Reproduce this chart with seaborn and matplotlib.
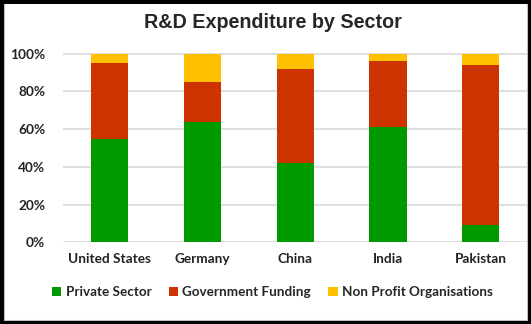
import matplotlib
matplotlib.use("Agg")
import matplotlib.pyplot as plt
import seaborn as sns
import pandas as pd
from matplotlib.patches import Rectangle, Patch

countries = ["United States", "Germany", "China", "India", "Pakistan"]
private_sector = [55, 64, 42, 61, 9]
government_funding = [40, 21, 50, 35, 85]
non_profit = [5, 15, 8, 4, 6]
yticks = [0, 20, 40, 60, 80, 100]
ytick_labels = ["0%", "20%", "40%", "60%", "80%", "100%"]
series_names = ["Private Sector", "Government Funding", "Non Profit Organisations"]
colors = ["#009900", "#CC3300", "#FFC000"]

df = pd.DataFrame({
    "country": countries,
    "private": private_sector,
    "gov": government_funding,
    "nonprofit": non_profit,
})
df["lvl_gov"] = df["private"] + df["gov"]
df["lvl_top"] = df["lvl_gov"] + df["nonprofit"]

sns.set_theme(style="white")
plt.rcParams["font.family"] = ["Lato", "DejaVu Sans"]

fig = plt.figure(figsize=(5.31, 3.24), dpi=100)
ax = fig.add_axes([0.119, 0.252, 0.874, 0.585])

# stacked bars: draw cumulative heights back to front
for col, c in [("lvl_top", colors[2]), ("lvl_gov", colors[1]), ("private", colors[0])]:
    sns.barplot(data=df, x="country", y=col, color=c, width=0.4, ax=ax,
                saturation=1, linewidth=0, zorder=3)

ax.set_ylim(0, 100.4)
ax.set_yticks(yticks)
ax.set_yticklabels(ytick_labels)
ax.set_xlim(-0.5, len(countries) - 0.5)
ax.yaxis.grid(True, color="#D9D9D9", linewidth=1.2, zorder=0)
ax.set_axisbelow(True)
for s in ax.spines.values():
    s.set_visible(False)
ax.set_xlabel("")
ax.set_ylabel("")
ax.tick_params(axis="both", length=0, labelsize=9.8, colors="#222222")
ax.tick_params(axis="y", pad=13)
ax.tick_params(axis="x", pad=8)
for lbl in ax.get_xticklabels() + ax.get_yticklabels():
    lbl.set_fontweight("bold")

fig.text(0.514, 0.932, "R&D Expenditure by Sector", ha="center", va="center",
         fontsize=14.2, fontweight="bold", family=["Liberation Sans", "DejaVu Sans"])

handles = [Patch(facecolor=c, edgecolor="none") for c in colors]
fig.legend(handles, series_names, loc="center", bbox_to_anchor=(0.513, 0.098),
           ncol=3, frameon=False, handlelength=0.7, handleheight=0.7,
           handletextpad=0.3, columnspacing=1.3,
           prop={"weight": "bold", "size": 9.7})

# outer frame
fig.patches.append(Rectangle((0.008, 0.012), 0.984, 0.978, transform=fig.transFigure,
                             fill=False, edgecolor="#BFBFBF", linewidth=0.8))
fig.patches.append(Rectangle((0.0, 0.0), 1.0, 1.0, transform=fig.transFigure,
                             fill=False, edgecolor="black", linewidth=5))

fig.savefig("out.png", dpi=100)
